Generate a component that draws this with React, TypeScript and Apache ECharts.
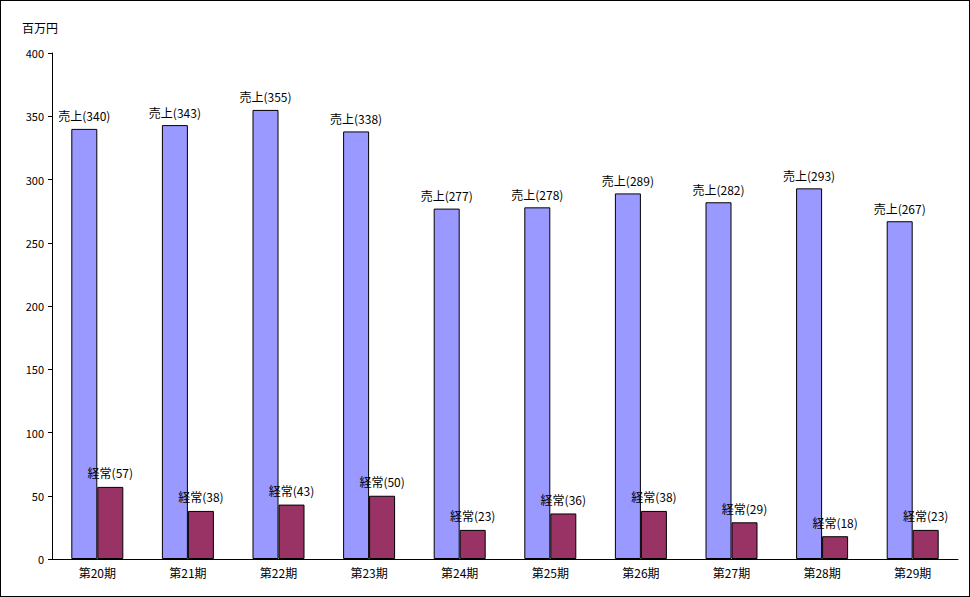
import React, { useEffect, useRef } from "react";
import * as echarts from "echarts";

const categories = ["第20期", "第21期", "第22期", "第23期", "第24期", "第25期", "第26期", "第27期", "第28期", "第29期"];
const salesValues = [340, 343, 355, 338, 277, 278, 289, 282, 293, 267];
const ordinaryValues = [57, 38, 43, 50, 23, 36, 38, 29, 18, 23];
const yTicks = { min: 0, max: 400, interval: 50 };
const unitLabel = "百万円";

const FONT = "'Noto Sans CJK JP', 'Noto Sans', sans-serif";

export default function App() {
  const ref = useRef<HTMLDivElement>(null);
  useEffect(() => {
    if (!ref.current) return;
    const chart = echarts.init(ref.current, undefined, { renderer: "svg" });
    chart.setOption({
      animation: false,
      backgroundColor: "#ffffff",
      textStyle: { fontFamily: FONT },
      grid: { left: 51, right: 11, top: 52, bottom: 37, containLabel: false },
      graphic: [
        {
          type: "text",
          left: 21,
          top: 20,
          style: { text: unitLabel, fill: "#000", font: `12px ${FONT}` },
        },
      ],
      xAxis: {
        type: "category",
        data: categories,
        axisLine: { lineStyle: { color: "#000", width: 1 } },
        axisTick: { show: false },
        axisLabel: { color: "#000", fontSize: 12, margin: 7, fontFamily: FONT },
      },
      yAxis: {
        type: "value",
        min: yTicks.min,
        max: yTicks.max,
        interval: yTicks.interval,
        axisLine: { show: true, lineStyle: { color: "#000", width: 1 } },
        axisTick: { show: true, length: 4, lineStyle: { color: "#000" } },
        splitLine: { show: false },
        axisLabel: { color: "#000", fontSize: 11, margin: 8, fontFamily: FONT },
      },
      series: [
        {
          name: "売上",
          type: "bar",
          data: salesValues,
          barWidth: 26,
          barGap: "0%",
          itemStyle: { color: "#9999FF", borderColor: "#000", borderWidth: 1 },
          label: {
            show: true,
            position: "top",
            distance: 7,
            color: "#000",
            fontSize: 12,
            fontFamily: FONT,
            formatter: (p: any) => `売上(${p.value})`,
          },
        },
        {
          name: "経常",
          type: "bar",
          data: ordinaryValues,
          barWidth: 26,
          barGap: "0%",
          itemStyle: { color: "#993366", borderColor: "#000", borderWidth: 1 },
          label: {
            show: true,
            position: "top",
            distance: 8,
            color: "#000",
            fontSize: 12,
            fontFamily: FONT,
            formatter: (p: any) => `経常(${p.value})`,
          },
        },
      ],
    });
    return () => chart.dispose();
  }, []);
  return (
    <div
      style={{
        position: "absolute",
        left: 0,
        top: 0,
        width: 970,
        height: 597,
        border: "1px solid #000",
        boxSizing: "border-box",
        background: "#fff",
      }}
    >
      <div ref={ref} style={{ width: 968, height: 595 }} />
    </div>
  );
}
